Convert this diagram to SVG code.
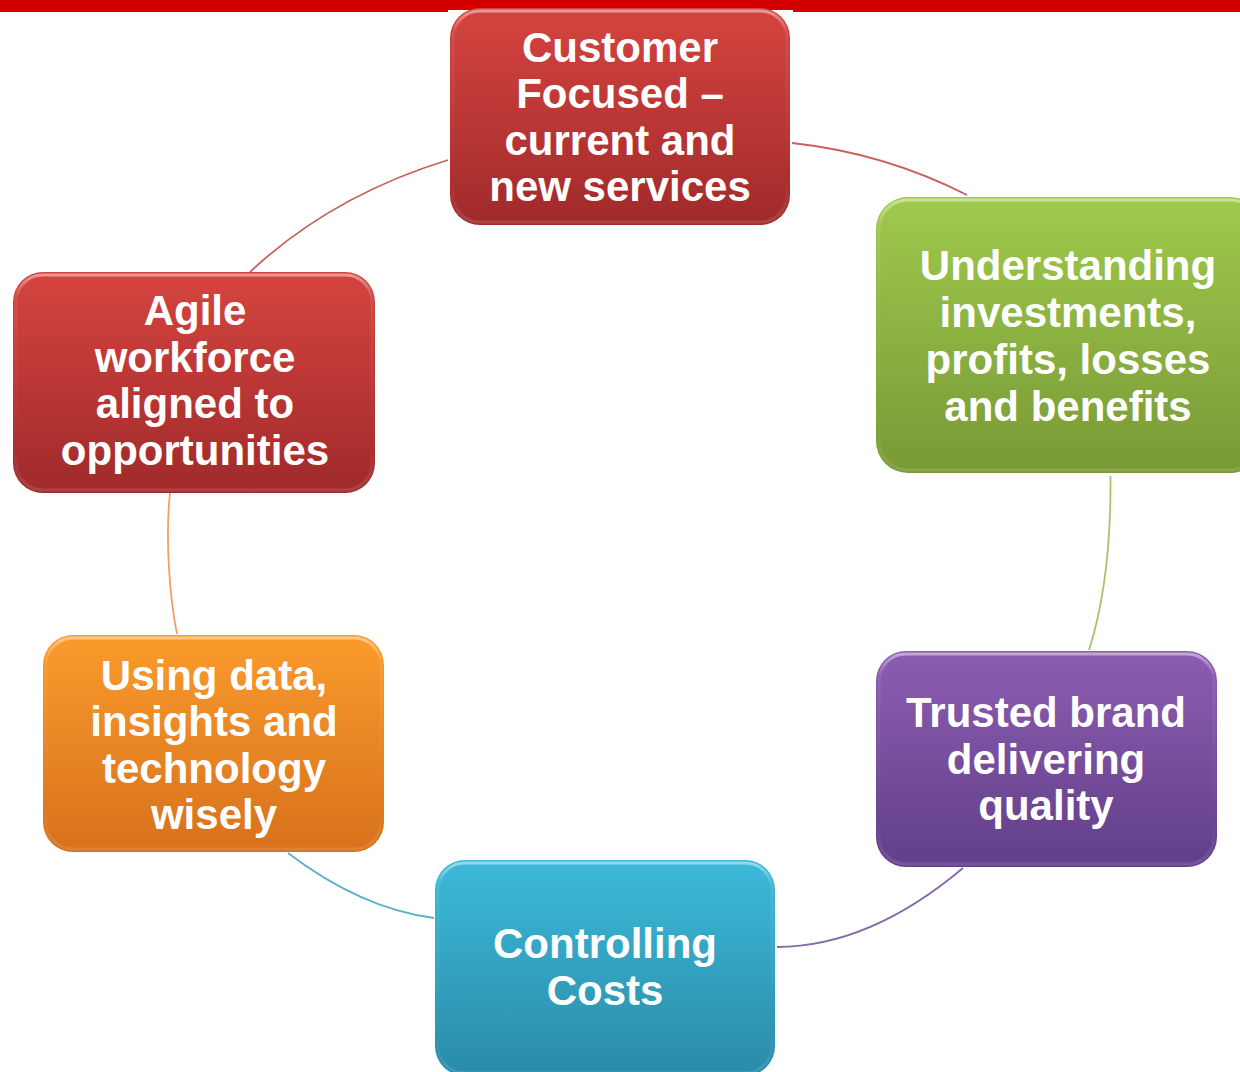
<svg xmlns="http://www.w3.org/2000/svg" width="1240" height="1072" viewBox="0 0 1240 1072">
<defs>
<linearGradient id="gRed" x1="0" y1="0" x2="0" y2="1">
<stop offset="0" stop-color="#d5443f"/><stop offset="1" stop-color="#a02a2b"/>
</linearGradient>
<linearGradient id="gGreen" x1="0" y1="0" x2="0" y2="1">
<stop offset="0" stop-color="#9fca4d"/><stop offset="1" stop-color="#789936"/>
</linearGradient>
<linearGradient id="gPurple" x1="0" y1="0" x2="0" y2="1">
<stop offset="0" stop-color="#8c5db2"/><stop offset="1" stop-color="#623f88"/>
</linearGradient>
<linearGradient id="gBlue" x1="0" y1="0" x2="0" y2="1">
<stop offset="0" stop-color="#3cb9d9"/><stop offset="1" stop-color="#2a8ba7"/>
</linearGradient>
<linearGradient id="gOrange" x1="0" y1="0" x2="0" y2="1">
<stop offset="0" stop-color="#fa9b2c"/><stop offset="1" stop-color="#d7711c"/>
</linearGradient>
<linearGradient id="bevel" x1="0" y1="0" x2="0" y2="1">
<stop offset="0" stop-color="#ffffff" stop-opacity="0.45"/>
<stop offset="0.1" stop-color="#ffffff" stop-opacity="0.08"/>
<stop offset="0.8" stop-color="#ffffff" stop-opacity="0"/>
<stop offset="1" stop-color="#ffffff" stop-opacity="0.12"/>
</linearGradient>
</defs>
<style>
.lbl{font-family:"Liberation Sans",Arial,sans-serif;font-weight:bold;font-size:42px;fill:#ffffff;text-anchor:middle}
.conn{fill:none;stroke-width:1.8}
.bev{fill:none;stroke:url(#bevel);stroke-width:3}
</style>
<rect x="0" y="0" width="1240" height="12" fill="#d40000"/>
<rect x="448" y="10" width="345" height="2" fill="#ffffff"/>
<g id="connectors">
<path class="conn" stroke="#c8605c" d="M792,143 Q884.5,153 967,195"/>
<path class="conn" stroke="#a6c46a" d="M1110.5,476 C1111,540 1105,600 1089,650"/>
<path class="conn" stroke="#8469a6" d="M963,868 Q870,946.5 777,947"/>
<path class="conn" stroke="#5ab0c8" d="M288,853 Q361,908.5 434,918"/>
<path class="conn" stroke="#f6a060" d="M177,634 C170,600 165,540 170,493"/>
<path class="conn" stroke="#c8605c" d="M250,272 Q331,196 448,160"/>
</g>
<g id="node-customer">
<rect x="450" y="8" width="340" height="217" rx="30" fill="url(#gRed)"/>
<rect x="453" y="11" width="334" height="211" rx="27" class="bev"/>
<text class="lbl"><tspan x="620" y="62">Customer</tspan><tspan x="620" y="108">Focused –</tspan><tspan x="620" y="155">current and</tspan><tspan x="620" y="201">new services</tspan></text>
</g>
<g id="node-understanding">
<rect x="876" y="197" width="386" height="276" rx="32" fill="url(#gGreen)"/>
<rect x="879" y="200" width="380" height="270" rx="29" class="bev"/>
<text class="lbl"><tspan x="1068" y="280">Understanding</tspan><tspan x="1068" y="327">investments,</tspan><tspan x="1068" y="374">profits, losses</tspan><tspan x="1068" y="421">and benefits</tspan></text>
</g>
<g id="node-trusted">
<rect x="876" y="651" width="341" height="216" rx="30" fill="url(#gPurple)"/>
<rect x="879" y="654" width="335" height="210" rx="27" class="bev"/>
<text class="lbl"><tspan x="1046" y="727">Trusted brand</tspan><tspan x="1046" y="774">delivering</tspan><tspan x="1046" y="820">quality</tspan></text>
</g>
<g id="node-controlling">
<rect x="435" y="860" width="340" height="216" rx="30" fill="url(#gBlue)"/>
<rect x="438" y="863" width="334" height="210" rx="27" class="bev"/>
<text class="lbl"><tspan x="605" y="958">Controlling</tspan><tspan x="605" y="1005">Costs</tspan></text>
</g>
<g id="node-using">
<rect x="43" y="635" width="341" height="217" rx="30" fill="url(#gOrange)"/>
<rect x="46" y="638" width="335" height="211" rx="27" class="bev"/>
<text class="lbl"><tspan x="214" y="690">Using data,</tspan><tspan x="214" y="736">insights and</tspan><tspan x="214" y="783">technology</tspan><tspan x="214" y="829">wisely</tspan></text>
</g>
<g id="node-agile">
<rect x="13" y="272" width="362" height="221" rx="30" fill="url(#gRed)"/>
<rect x="16" y="275" width="356" height="215" rx="27" class="bev"/>
<text class="lbl"><tspan x="195" y="325">Agile</tspan><tspan x="195" y="372">workforce</tspan><tspan x="195" y="418">aligned to</tspan><tspan x="195" y="465">opportunities</tspan></text>
</g>
</svg>
